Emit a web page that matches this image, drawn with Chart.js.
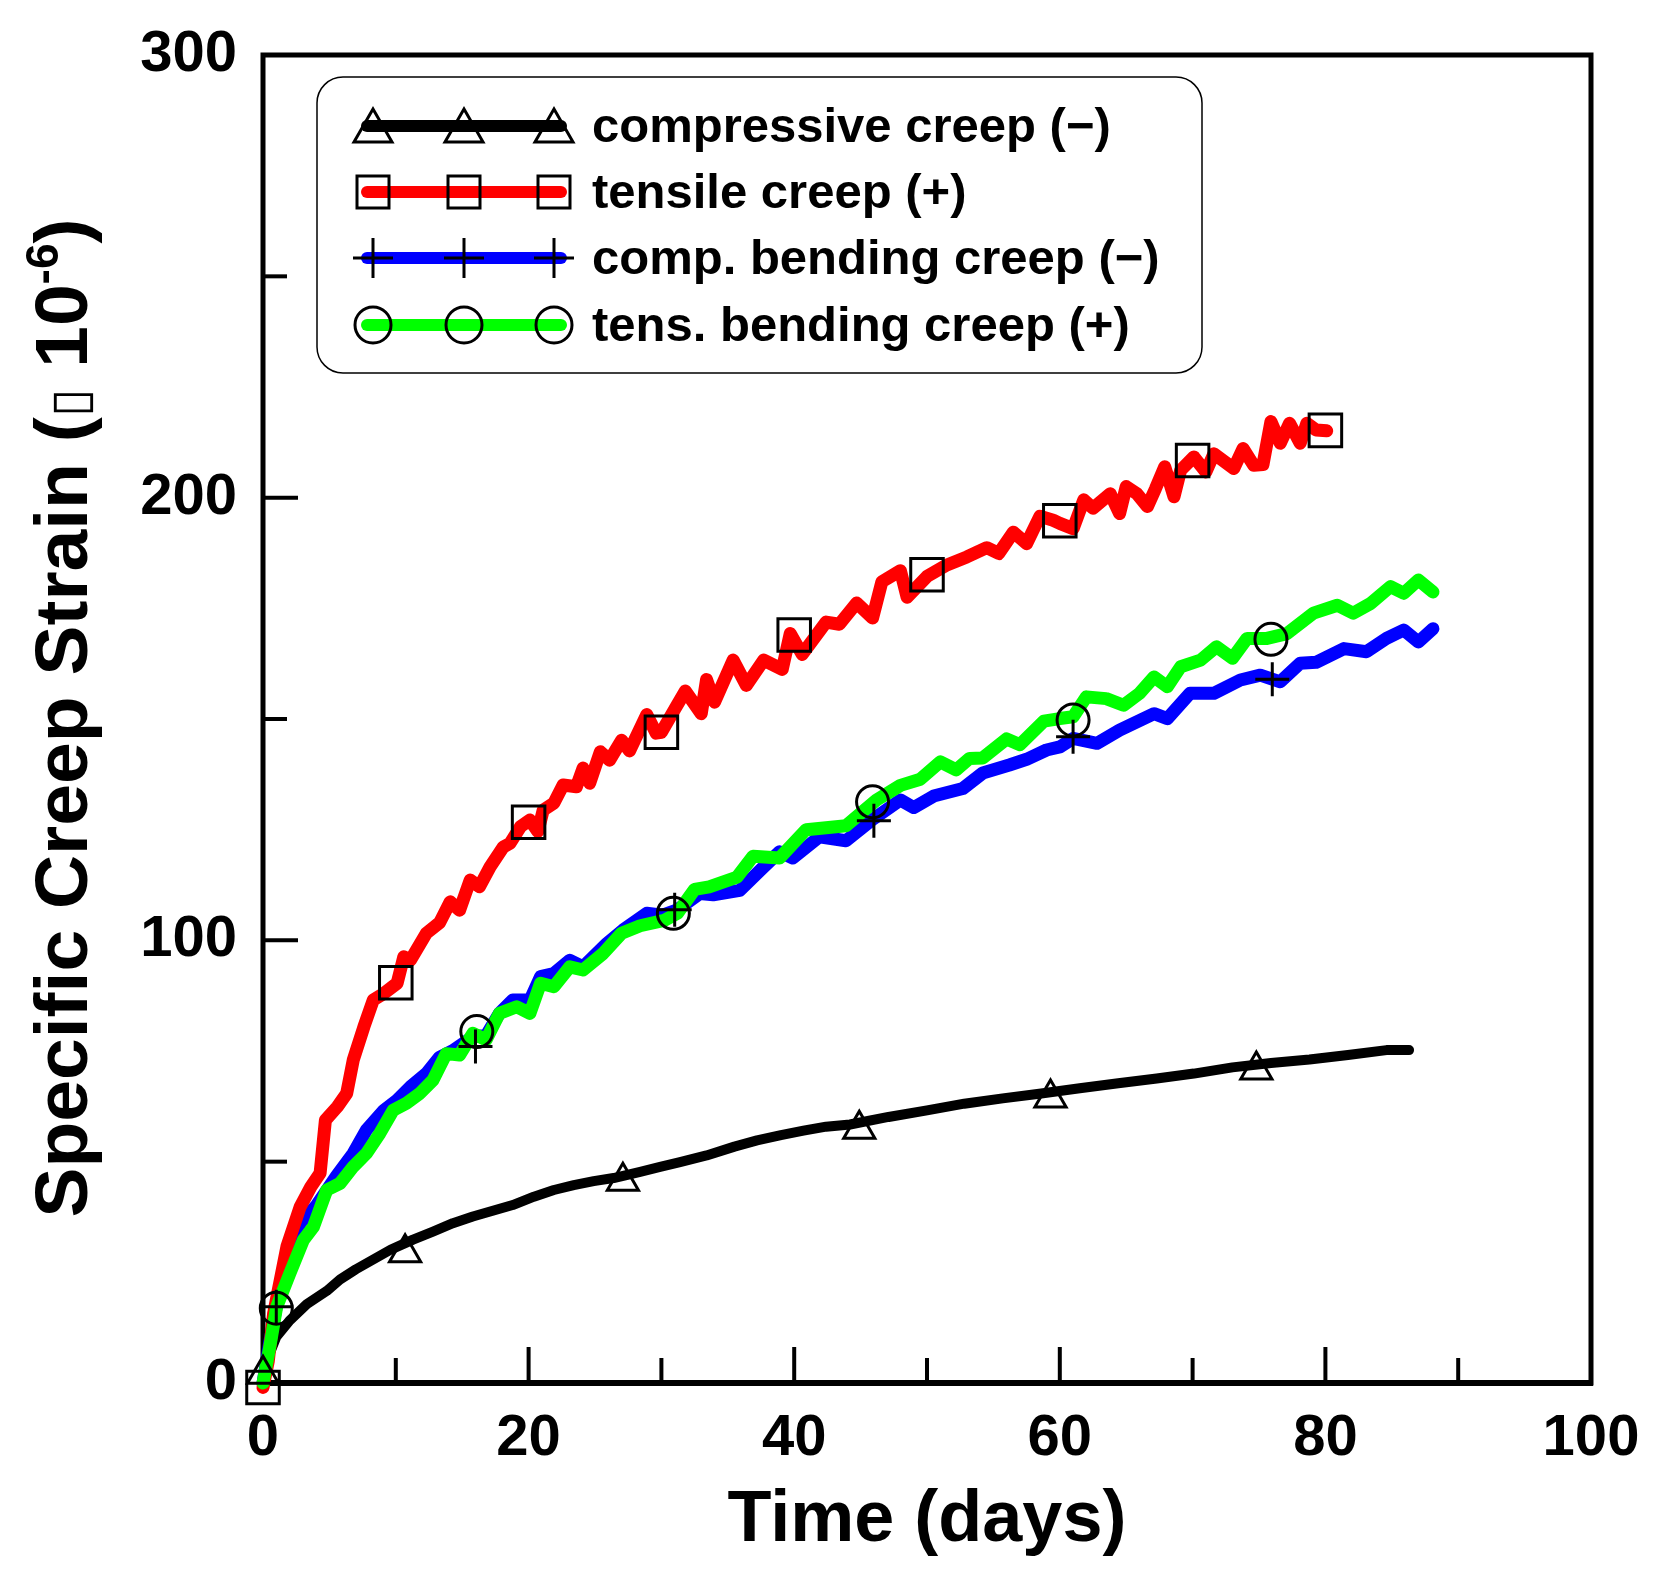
<!DOCTYPE html>
<html>
<head>
<meta charset="utf-8">
<script src="https://cdn.jsdelivr.net/npm/chart.js@4"></script>
<style>
  body { margin: 0; background: #fff; }
  #wrap { width: 1672px; height: 1591px; }
</style>
</head>
<body>
<div id="wrap"><canvas id="c" width="1672" height="1591"></canvas></div>
<script>
// data (days, specific creep strain x 1e-6)
const compDays = [0, 0.15, 0.5, 1, 2, 3.3, 4.8, 5.8, 7, 8.3, 9.6, 11.3, 12.8, 14.3, 15.8, 17.3, 18.8, 20.4, 21.9, 23.4, 24.9, 26.4, 28.4, 29.9, 31.4, 33.4, 35.5, 37.2, 39, 40.7, 42.4, 44.2, 47.1, 50, 52.8, 55.7, 58.6, 61.5, 64.4, 67.3, 70.1, 73, 75.9, 78.8, 81.7, 84.6, 86.3];
const compVals = [0, 1.4, 6.6, 10.4, 14.1, 17.8, 20.8, 23.4, 25.7, 27.9, 30.1, 32.4, 34.2, 36.1, 37.6, 38.9, 40.2, 42.1, 43.6, 44.7, 45.6, 46.3, 47.7, 48.8, 49.9, 51.4, 53.4, 54.8, 56, 57, 57.9, 58.4, 60.1, 61.6, 63.1, 64.3, 65.4, 66.6, 67.7, 68.8, 69.9, 71.3, 72.3, 73.1, 74.1, 75.2, 75.2];

const tensDays = [0, 0.4, 0.8, 1.8, 2.8, 3.6, 4.3, 4.7, 5.6, 6.3, 6.8, 7.6, 8.3, 9.1, 10.1, 10.6, 11.1, 12.3, 13.3, 14.1, 14.8, 15.6, 16.3, 17.1, 18.1, 18.6, 19.4, 20.1, 20.7, 21.1, 21.9, 22.6, 23.6, 24.1, 24.6, 25.4, 26.1, 27.0, 27.6, 28.9, 29.6, 30.0, 31.0, 31.8, 33.0, 33.4, 34.0, 35.4, 36.4, 37.7, 39.1, 39.7, 40.6, 42.4, 43.4, 44.7, 45.9, 46.6, 48.0, 48.5, 50.0, 51.5, 53.0, 54.5, 55.4, 56.5, 57.5, 58.5, 59.5, 60.0, 61.0, 61.8, 62.5, 63.8, 64.5, 65.0, 65.8, 66.6, 67.2, 67.9, 68.6, 69.1, 70.1, 71.0, 71.6, 73.1, 73.8, 74.6, 75.3, 75.9, 76.6, 77.3, 78.1, 78.6, 79.3, 80.1];
const tensVals = [-1, 5, 15.7, 30.8, 39.8, 44.3, 47.4, 59.4, 62.4, 65.4, 73, 80.5, 86.5, 88, 90.3, 96.3, 95.5, 101.6, 104, 108.7, 106.8, 113.6, 112.1, 116.6, 121.1, 121.9, 125.7, 127.2, 124.6, 129.4, 131, 135.1, 134.7, 138.9, 135.5, 142.6, 140.7, 145.2, 142.8, 151, 146.8, 147, 152.2, 156.3, 151.2, 158.9, 153.8, 163.3, 157.6, 163.3, 161.2, 169.3, 164.6, 171.9, 171.4, 176.2, 172.8, 181, 183.5, 177.5, 182.2, 184.8, 186.6, 188.7, 187.4, 192.2, 189.6, 195.8, 194.9, 194.2, 193, 199.5, 197.6, 200.9, 196.4, 202.5, 200.9, 198, 202, 207, 200.2, 206.2, 209.2, 205.8, 209.9, 206.6, 211.1, 207.3, 207.5, 217.2, 212.3, 216.8, 212.3, 216.8, 215.3, 215.1];

const cbendDays = [0, 0.5, 1.0, 1.8, 2.8, 4.0, 5.5, 6.8, 7.8, 9.1, 10.1, 11.1, 12.3, 13.3, 14.3, 15.8, 16.8, 17.8, 18.8, 20.1, 20.9, 21.9, 23.1, 24.1, 25.9, 27.1, 28.9, 30.1, 31.2, 32.9, 33.9, 35.9, 37.5, 38.9, 39.9, 41.9, 43.9, 45.9, 48.0, 49.0, 50.5, 52.7, 54.2, 56.2, 57.5, 59.0, 60.0, 61.0, 62.8, 64.5, 67.1, 68.1, 69.8, 71.6, 73.6, 75.1, 76.6, 78.1, 79.3, 81.4, 83.1, 84.6, 85.9, 87.0, 88.1];
const cbendVals = [0, 9, 17.2, 28, 36.1, 40, 46.6, 51.9, 57.2, 61.6, 63.9, 66.9, 69.9, 73.6, 75.1, 78.2, 78.5, 83.5, 86.5, 86.5, 91.8, 92.5, 95.5, 94, 99.3, 102.3, 106.1, 105.7, 106.9, 110.6, 110.3, 111.3, 116, 120, 118.6, 123.4, 122.5, 127.3, 131.7, 130, 132.6, 134.3, 137.8, 139.6, 140.9, 143, 143.7, 145.6, 144.5, 147.5, 151.2, 150.1, 155.8, 155.8, 158.8, 159.9, 158.4, 162.6, 162.8, 165.9, 165.2, 168.2, 170.1, 167.4, 170.4];

const tbendDays = [0, 0.5, 1.03, 2.03, 3.04, 3.8, 4.8, 5.8, 6.8, 7.8, 8.8, 9.8, 10.8, 11.8, 12.8, 13.8, 14.8, 15.8, 16.8, 17.8, 19.1, 20.1, 20.9, 21.9, 23.1, 24.1, 25.6, 27.0, 28.4, 30.2, 31.2, 32.5, 33.6, 35.7, 36.9, 38.9, 40.9, 43.9, 46.2, 48.0, 49.5, 51.0, 52.2, 53.2, 54.2, 56.0, 57.0, 58.8, 60.0, 61.0, 62.0, 63.5, 64.8, 66.0, 67.1, 68.1, 69.1, 70.6, 71.8, 73.0, 74.1, 75.6, 77.1, 79.1, 80.9, 82.1, 83.4, 84.9, 85.9, 87.0, 88.1];
const tbendVals = [0, 8, 17.2, 24.8, 32.3, 35.3, 43.6, 45.1, 48.9, 51.9, 56.4, 61.6, 63.2, 65.4, 68.4, 74.4, 74.1, 79, 77.5, 83.5, 85, 83.5, 90.3, 89.5, 94, 93.3, 97, 101.6, 103.3, 104.5, 106.1, 111.5, 112.1, 114.3, 119, 118.6, 125, 125.9, 131.7, 135, 136.4, 140.3, 138.5, 141.1, 141.2, 145.5, 144.2, 149.5, 150.1, 150.5, 155, 154.6, 153.1, 155.8, 159.5, 157.3, 161.8, 163.3, 166.3, 163.7, 168.2, 168.2, 169.3, 173.9, 175.7, 173.9, 176.1, 179.9, 178.4, 181.4, 178.7];

// symbol positions
const compMarkDays = [0, 10.7, 27.1, 44.9, 59.3, 74.8];
const compMarkVals = [2, 29.4, 45.6, 57.3, 64.4, 70.7];
const tensMarkDays = [0, 10, 20, 30, 40, 50, 60, 70, 80];
const tensMarkVals = [-1, 90.4, 126.7, 147, 169, 182.6, 194.8, 208.4, 215.2];
const cbendMarkDays = [1, 16, 31, 46, 61, 76];
const cbendMarkVals = [17.2, 76, 106.9, 127, 146, 159];
const tbendMarkDays = [1, 16.1, 30.9, 45.9, 61, 75.9];
const tbendMarkVals = [16.9, 79.4, 106.1, 131.3, 149.8, 168];

const xTicks = [0, 20, 40, 60, 80, 100];
const yTicks = [0, 100, 200, 300];

const seriesNames = ['compressive creep (\u2212)', 'tensile creep (+)', 'comp. bending creep (\u2212)', 'tens. bending creep (+)'];
const seriesColors = ['#000000', '#ff0000', '#0000ff', '#00ff00'];
const seriesSymbols = ['triangle', 'rect', 'cross', 'circle'];

const FONT = '"Liberation Sans", Arial, Helvetica, sans-serif';

function pts(xs, ys) {
  return xs.map((x, i) => ({ x: x, y: ys[i] }));
}

function lineSet(xs, ys, color, width, order) {
  return {
    data: pts(xs, ys),
    borderColor: color,
    borderWidth: width,
    pointRadius: 0,
    tension: 0,
    borderJoinStyle: 'round',
    borderCapStyle: 'round',
    fill: false,
    clip: false,
    order: order
  };
}

function markSet(xs, ys, style, r) {
  return {
    data: pts(xs, ys),
    showLine: false,
    pointStyle: style,
    pointRadius: r,
    pointBorderColor: '#000',
    pointBackgroundColor: 'rgba(0,0,0,0)',
    pointBorderWidth: 3,
    clip: false,
    order: 0
  };
}

// my own little symbol painter, used for the legend only
function symbol(ctx, style, x, y) {
  ctx.beginPath();
  if (style === 'triangle') {
    ctx.moveTo(x, y - 17);
    ctx.lineTo(x + 19, y + 16);
    ctx.lineTo(x - 19, y + 16);
    ctx.closePath();
  } else if (style === 'rect') {
    ctx.rect(x - 16, y - 16, 32, 32);
  } else if (style === 'cross') {
    ctx.moveTo(x - 20, y); ctx.lineTo(x + 20, y);
    ctx.moveTo(x, y - 20); ctx.lineTo(x, y + 20);
  } else {
    ctx.arc(x, y, 18, 0, Math.PI * 2);
  }
  ctx.stroke();
}

const frame = {
  id: 'frame',
  beforeDatasetsDraw(chart) {
    const ctx = chart.ctx, a = chart.chartArea;
    const sx = chart.scales.x, sy = chart.scales.y;
    ctx.save();
    ctx.strokeStyle = '#000';
    ctx.lineCap = 'butt';
    // ticks point inward
    ctx.lineWidth = 4;
    [10, 20, 30, 40, 50, 60, 70, 80, 90].forEach(v => {
      const px = sx.getPixelForValue(v);
      const len = v % 20 === 0 ? 36 : 25;
      ctx.beginPath(); ctx.moveTo(px, a.bottom); ctx.lineTo(px, a.bottom - len); ctx.stroke();
    });
    [50, 100, 150, 200, 250].forEach(v => {
      const py = sy.getPixelForValue(v);
      const len = v % 100 === 0 ? 35 : 24;
      ctx.beginPath(); ctx.moveTo(a.left, py); ctx.lineTo(a.left + len, py); ctx.stroke();
    });
    ctx.lineWidth = 5;
    ctx.strokeRect(a.left, a.top, a.right - a.left, a.bottom - a.top);
    ctx.lineWidth = 6;
    ctx.beginPath(); ctx.moveTo(a.left - 2, a.bottom); ctx.lineTo(a.right + 2, a.bottom); ctx.stroke();
    ctx.restore();
  },
  afterDraw(chart) {
    const ctx = chart.ctx, a = chart.chartArea;
    ctx.save();
    ctx.fillStyle = '#000';

    // x title
    ctx.font = 'bold 72px ' + FONT;
    ctx.textAlign = 'center';
    ctx.textBaseline = 'alphabetic';
    ctx.fillText('Time (days)', (a.left + a.right) / 2, 1541);

    // y title, rotated, with a raised exponent
    const big = 'bold 75px ' + FONT, small = 'bold 46px ' + FONT;
    const parts = [
      { t: 'Specific Creep Strain (', f: big, dy: 0 },
      { t: '\u25AF', f: '52px "DejaVu Sans"', dy: 0 },
      { t: ' 10', f: big, dy: 0 },
      { t: '-6', f: small, dy: -29 },
      { t: ')', f: big, dy: 0 }
    ];
    let total = 0;
    parts.forEach(p => { ctx.font = p.f; p.w = ctx.measureText(p.t).width; total += p.w; });
    ctx.translate(87, 718);
    ctx.rotate(-Math.PI / 2);
    ctx.textAlign = 'left';
    let cx = -total / 2;
    parts.forEach(p => { ctx.font = p.f; ctx.fillText(p.t, cx, p.dy); cx += p.w; });
    ctx.restore();

    // legend box
    ctx.save();
    const bx = 317, by = 77, bw = 885, bh = 296, br = 26;
    ctx.beginPath();
    ctx.roundRect(bx, by, bw, bh, br);
    ctx.fillStyle = '#fff';
    ctx.fill();
    ctx.lineWidth = 1.5;
    ctx.strokeStyle = '#000';
    ctx.stroke();
    const rows = [126, 192, 258, 325];
    const marks = [373, 464, 554];
    ctx.font = 'bold 49px ' + FONT;
    ctx.textAlign = 'left';
    ctx.textBaseline = 'alphabetic';
    rows.forEach((ry, i) => {
      ctx.strokeStyle = seriesColors[i];
      ctx.lineWidth = 12;
      ctx.lineCap = 'round';
      ctx.beginPath(); ctx.moveTo(367, ry); ctx.lineTo(561, ry); ctx.stroke();
      ctx.strokeStyle = '#000';
      ctx.lineWidth = 3;
      ctx.lineCap = 'butt';
      marks.forEach(mx => symbol(ctx, seriesSymbols[i], mx, ry));
      ctx.fillStyle = '#000';
      ctx.fillText(seriesNames[i], 592, ry + 16);
    });
    ctx.restore();
  }
};

const tickFont = { family: FONT, size: 58, weight: 'bold' };

new Chart(document.getElementById('c'), {
  type: 'line',
  data: {
    datasets: [
      markSet(compMarkDays, compMarkVals, 'triangle', 18),
      markSet(tensMarkDays, tensMarkVals, 'rect', 23),
      markSet(cbendMarkDays, cbendMarkVals, 'cross', 17),
      markSet(tbendMarkDays, tbendMarkVals, 'circle', 16),
      lineSet(tbendDays, tbendVals, seriesColors[3], 13, 1),
      lineSet(tensDays, tensVals, seriesColors[1], 13, 2),
      lineSet(cbendDays, cbendVals, seriesColors[2], 13, 3),
      lineSet(compDays, compVals, seriesColors[0], 10, 4)
    ]
  },
  options: {
    responsive: false,
    animation: false,
    devicePixelRatio: 1,
    layout: { padding: { left: 0, right: 81, top: 55, bottom: 0 } },
    plugins: { legend: { display: false }, title: { display: false }, tooltip: { enabled: false } },
    scales: {
      x: {
        type: 'linear',
        min: 0,
        max: 100,
        afterBuildTicks: s => { s.ticks = xTicks.map(v => ({ value: v })); },
        afterFit: s => { s.height = 208; s.paddingLeft = 0; s.paddingRight = 0; },
        ticks: { font: tickFont, color: '#000', padding: 21, maxRotation: 0 },
        grid: { display: false, drawTicks: false },
        border: { display: false }
      },
      y: {
        min: 0,
        max: 300,
        afterBuildTicks: s => { s.ticks = yTicks.map(v => ({ value: v })); },
        afterFit: s => { s.width = 263; s.paddingTop = 0; s.paddingBottom = 0; },
        ticks: { font: tickFont, color: '#000', padding: 26 },
        grid: { display: false, drawTicks: false },
        border: { display: false }
      }
    }
  },
  plugins: [frame]
});
</script>
</body>
</html>
